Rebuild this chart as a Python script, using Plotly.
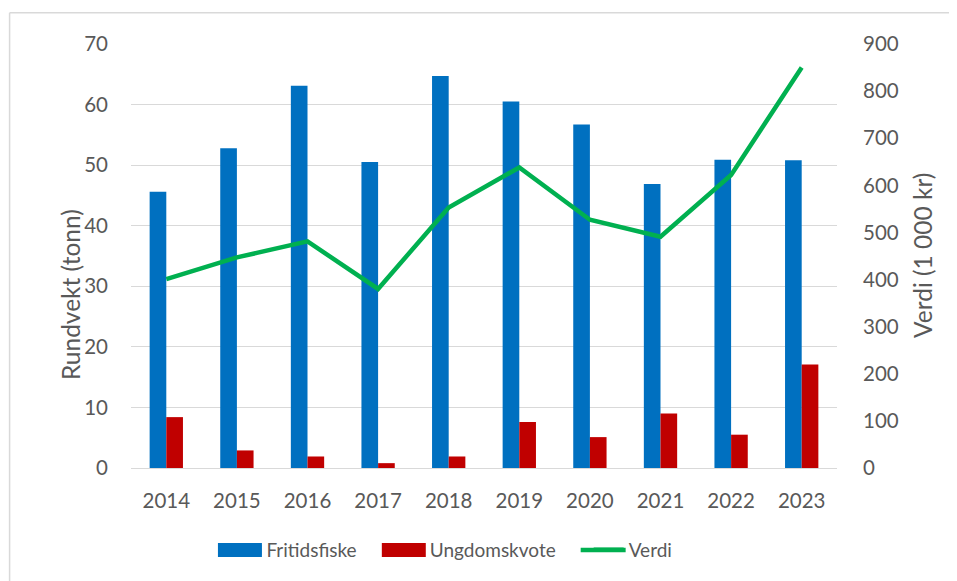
import plotly.graph_objects as go

years = ["2014", "2015", "2016", "2017", "2018", "2019", "2020", "2021", "2022", "2023"]
fritidsfiske = [45.6, 52.8, 63.1, 50.5, 64.7, 60.5, 56.7, 46.9, 50.9, 50.8]
ungdomskvote = [8.4, 2.9, 1.9, 0.8, 1.9, 7.6, 5.1, 9.0, 5.5, 17.1]
verdi = [401, 447, 481, 380, 553, 638, 527, 491, 622, 850]

left_ticks = [0, 10, 20, 30, 40, 50, 60, 70]
right_ticks = [0, 100, 200, 300, 400, 500, 600, 700, 800, 900]

BLUE = "#0070C0"
RED = "#C00000"
GREEN = "#00B050"
TXT = "#595959"
GRID = "#D9D9D9"
FONT = "Lato"

W, H = 957, 581
OFF = 8  # page body margin
# desired plot area in page pixels
PX0, PX1, PY0, PY1 = 131, 837.5, 44, 468
L = PX0 - OFF
R = W - (PX1 - OFF)
T = PY0 - OFF
B = H - (PY1 - OFF)
PW, PH = PX1 - PX0, PY1 - PY0


def px(x):
    return (x - PX0) / PW


def py(y):
    return (PY1 - y) / PH


fig = go.Figure()
fig.add_trace(go.Bar(x=years, y=fritidsfiske, name="Fritidsfiske", marker_color=BLUE,
                     marker_line_width=0, showlegend=False))
fig.add_trace(go.Bar(x=years, y=ungdomskvote, name="Ungdomskvote", marker_color=RED,
                     marker_line_width=0, showlegend=False))
fig.add_trace(go.Scatter(x=years, y=verdi, name="Verdi", mode="lines", yaxis="y2",
                         line=dict(color=GREEN, width=4.5), showlegend=False))

# legend entries (one legend per entry so they can be spaced like the original)
fig.add_trace(go.Scatter(x=[None], y=[None], mode="lines", name="Fritidsfiske",
                         line=dict(color=BLUE, width=14), legend="legend"))
fig.add_trace(go.Scatter(x=[None], y=[None], mode="lines", name="Ungdomskvote",
                         line=dict(color=RED, width=14), legend="legend2"))
fig.add_trace(go.Scatter(x=[None], y=[None], mode="lines", name="Verdi",
                         line=dict(color=GREEN, width=4.5), legend="legend3", yaxis="y2"))

LEG_Y = 550
leg_common = dict(orientation="h", yanchor="middle", xanchor="left", y=py(LEG_Y),
                  bgcolor="rgba(0,0,0,0)", font=dict(family=FONT, size=19, color=TXT))

fig.update_layout(
    width=W, height=H,
    margin=dict(l=L, r=R, t=T, b=B, pad=0),
    paper_bgcolor="white", plot_bgcolor="white",
    font=dict(family=FONT, size=20, color=TXT),
    barmode="group", bargap=0.528, bargroupgap=0,
    xaxis=dict(type="category", showgrid=False, showline=False, zeroline=False,
               ticks="", ticklabelstandoff=18, tickfont=dict(family=FONT, size=20.5, color=TXT)),
    yaxis=dict(range=[0, 70], tickvals=left_ticks, showgrid=True, gridcolor=GRID, gridwidth=1.3,
               zeroline=True, zerolinecolor=GRID, zerolinewidth=1.3, showline=False,
               ticks="", ticklabelstandoff=22, tickfont=dict(family=FONT, size=20.5, color=TXT)),
    yaxis2=dict(range=[0, 900], tickvals=right_ticks, overlaying="y", side="right",
                showgrid=False, zeroline=False, showline=False, ticks="", ticklabelstandoff=25,
                tickfont=dict(family=FONT, size=20.5, color=TXT)),
    legend=dict(x=px(226.5), **leg_common),
    legend2=dict(x=px(390), **leg_common),
    legend3=dict(x=px(589), **leg_common),
    showlegend=True,
)

fig.add_annotation(text="Rundvekt (tonn)", xref="paper", yref="paper", x=px(70), y=py(295),
                   textangle=-90, showarrow=False, font=dict(family=FONT, size=24.5, color=TXT),
                   xanchor="center", yanchor="middle")
fig.add_annotation(text="Verdi (1 000 kr)", xref="paper", yref="paper", x=px(923), y=py(255.5),
                   textangle=-90, showarrow=False, font=dict(family=FONT, size=24.5, color=TXT),
                   xanchor="center", yanchor="middle")

# widen the legend swatches to the original's proportions
for x0, x1, col, hh in [(218, 262, BLUE, 7), (382, 426, RED, 7), (581, 626, GREEN, 2.2)]:
    fig.add_shape(type="rect", xref="paper", yref="paper", x0=px(x0), x1=px(x1),
                  y0=py(LEG_Y - hh), y1=py(LEG_Y + hh), fillcolor=col, line_width=0)

# chart-area frame (top and left edges visible in the crop)
fig.add_shape(type="line", xref="paper", yref="paper", x0=px(9.5), x1=px(1000),
              y0=py(12.7), y1=py(12.7), line=dict(color=GRID, width=1.5))
fig.add_shape(type="line", xref="paper", yref="paper", x0=px(9.5), x1=px(9.5),
              y0=py(12.7), y1=py(620), line=dict(color=GRID, width=1.5))

fig.write_html("out.html")
